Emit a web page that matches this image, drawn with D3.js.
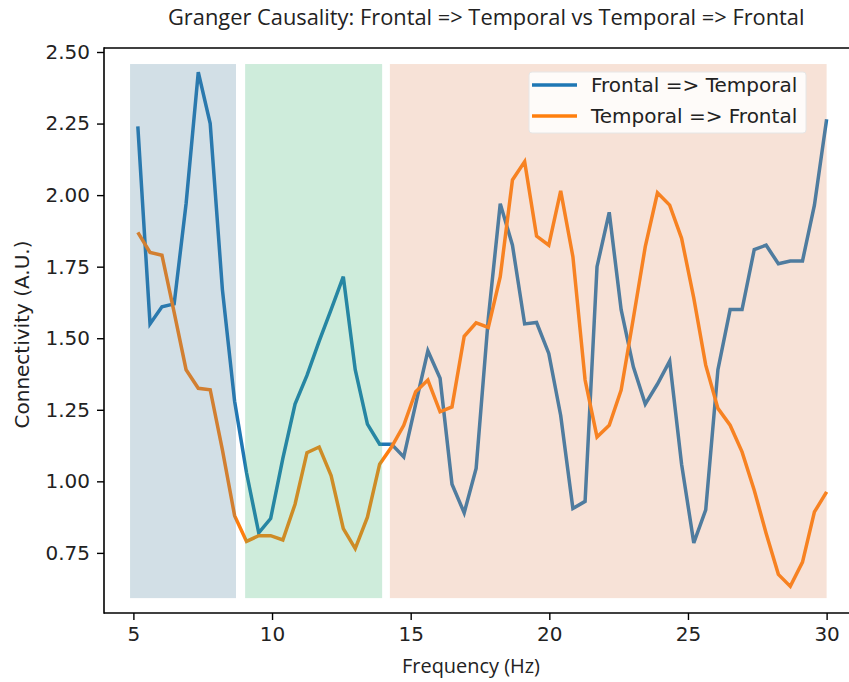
<!DOCTYPE html>
<html>
<head>
<meta charset="utf-8">
<script src="https://cdn.jsdelivr.net/npm/d3@7/dist/d3.min.js"></script>
<style>
  html, body { margin: 0; padding: 0; background: #ffffff; }
  svg { display: block; }
</style>
</head>
<body>
<script>
// Frequency grid (Hz)
const freqs = [
  5.16, 5.60, 6.03, 6.47, 6.90, 7.34, 7.77, 8.21, 8.65, 9.08,
  9.52, 9.95, 10.39, 10.83, 11.26, 11.70, 12.13, 12.57, 13.00, 13.44,
  13.88, 14.31, 14.75, 15.18, 15.62, 16.06, 16.49, 16.93, 17.36, 17.80,
  18.23, 18.67, 19.11, 19.54, 19.98, 20.41, 20.85, 21.29, 21.72, 22.16,
  22.59, 23.03, 23.46, 23.90, 24.34, 24.77, 25.21, 25.64, 26.08, 26.52,
  26.95, 27.39, 27.82, 28.26, 28.69, 29.13, 29.56, 30.00
];

// Granger connectivity, Frontal => Temporal
const frontalToTemporal = [
  2.24, 1.55, 1.61, 1.62, 1.97, 2.43, 2.25, 1.67, 1.28, 1.03,
  0.82, 0.87, 1.08, 1.27, 1.37, 1.49, 1.60, 1.715, 1.39, 1.20,
  1.13, 1.13, 1.085, 1.27, 1.456, 1.36, 0.99, 0.89, 1.045, 1.57,
  1.97, 1.825, 1.55, 1.555, 1.447, 1.23, 0.905, 0.93, 1.75, 1.94,
  1.60, 1.40, 1.27, 1.34, 1.42, 1.06, 0.785, 0.90, 1.39, 1.60,
  1.60, 1.81, 1.825, 1.76, 1.77, 1.77, 1.965, 2.265
];

// Granger connectivity, Temporal => Frontal
const temporalToFrontal = [
  1.87, 1.80, 1.79, 1.59, 1.39, 1.325, 1.32, 1.11, 0.88, 0.79,
  0.81, 0.81, 0.795, 0.92, 1.10, 1.12, 1.02, 0.835, 0.765, 0.875,
  1.06, 1.12, 1.196, 1.313, 1.354, 1.243, 1.26, 1.507, 1.554, 1.538,
  1.715, 2.053, 2.117, 1.857, 1.825, 2.015, 1.785, 1.354, 1.155, 1.196,
  1.319, 1.57, 1.82, 2.008, 1.965, 1.849, 1.64, 1.406, 1.255, 1.196,
  1.103, 0.969, 0.818, 0.675, 0.633, 0.718, 0.893, 0.963
];

// Frequency bands highlighted behind the curves (Hz)
const bandStart = [4.88, 9.03, 14.25];
const bandEnd   = [8.70, 13.97, 30.0];
const bandLow = 0.592, bandHigh = 2.458;

const seriesNames = ["Frontal => Temporal", "Temporal => Frontal"];
const xTicks = [5, 10, 15, 20, 25, 30];
const yTicks = [0.75, 1.00, 1.25, 1.50, 1.75, 2.00, 2.25, 2.50];

const titleText = "Granger Causality: Frontal => Temporal vs Temporal => Frontal";
const xLabel = "Frequency (Hz)";
const yLabel = "Connectivity (A.U.)";

// ---- drawing ----
const W = 849, H = 682;
const plot = { left: 104, right: 861, top: 48, bottom: 613 };
const seriesColors = ["#1f77b4", "#ff7f0e"];
const bandColors = ["#4b7f9b", "#3cb371", "#de8b5f"];
const bandAlpha = 0.25;
const tickFont = "'DejaVu Sans', sans-serif";
const headFont = "'Open Sans', 'Noto Sans', sans-serif";

const svg = d3.select("body").append("svg")
  .attr("width", W).attr("height", H)
  .style("background", "#ffffff");

const x = d3.scaleLinear().domain([3.94, 31.24]).range([plot.left, plot.right]);
const y = d3.scaleLinear().domain([0.54, 2.514]).range([plot.bottom, plot.top]);

svg.append("clipPath").attr("id", "plot-clip")
  .append("rect")
  .attr("x", plot.left).attr("y", plot.top)
  .attr("width", plot.right - plot.left).attr("height", plot.bottom - plot.top);

const area = svg.append("g").attr("clip-path", "url(#plot-clip)");

// curves
const series = [frontalToTemporal, temporalToFrontal];
const line = d3.line().x((d, i) => x(freqs[i])).y(d => y(d));
series.forEach((vals, k) => {
  area.append("path")
    .datum(vals)
    .attr("d", line)
    .attr("fill", "none")
    .attr("stroke", seriesColors[k])
    .attr("stroke-width", 3.5)
    .attr("stroke-linejoin", "miter")
    .attr("stroke-linecap", "butt");
});

// translucent band shading laid over the curves
area.selectAll("rect.band")
  .data(bandStart)
  .join("rect")
  .attr("class", "band")
  .attr("x", (d) => x(d))
  .attr("width", (d, i) => x(bandEnd[i]) - x(d))
  .attr("y", y(bandHigh))
  .attr("height", y(bandLow) - y(bandHigh))
  .attr("fill", (d, i) => bandColors[i])
  .attr("fill-opacity", bandAlpha);

// axes
const xAxis = d3.axisBottom(x).tickValues(xTicks).tickFormat(d3.format("d"))
  .tickSize(7).tickPadding(7);
const yAxis = d3.axisLeft(y).tickValues(yTicks).tickFormat(d3.format(".2f"))
  .tickSize(7).tickPadding(7);

const gx = svg.append("g").attr("transform", `translate(0,${plot.bottom})`).call(xAxis);
const gy = svg.append("g").attr("transform", `translate(${plot.left},0)`).call(yAxis);
[gx, gy].forEach(g => {
  g.select(".domain").remove();
  g.selectAll(".tick line").attr("stroke", "#000").attr("stroke-width", 1.4);
  g.selectAll(".tick text")
    .attr("fill", "#222")
    .style("font-family", tickFont)
    .style("font-size", "20px");
});

// spines (left, bottom, top)
const spine = svg.append("g").attr("stroke", "#000").attr("stroke-width", 1.6).attr("fill", "none");
spine.append("line").attr("x1", plot.left).attr("x2", plot.left).attr("y1", plot.top - 0.8).attr("y2", plot.bottom + 0.8);
spine.append("line").attr("x1", plot.left).attr("x2", plot.right).attr("y1", plot.bottom).attr("y2", plot.bottom);
spine.append("line").attr("x1", plot.left).attr("x2", plot.right).attr("y1", plot.top).attr("y2", plot.top);

// fit a text element to a given width by adjusting its font size
function fitWidth(sel, target, base) {
  sel.style("font-size", base + "px");
  const w = sel.node().getComputedTextLength();
  if (w > 0) sel.style("font-size", (base * target / w).toFixed(2) + "px");
}

// title
const title = svg.append("text")
  .attr("x", 168).attr("y", 25)
  .attr("fill", "#222")
  .style("font-family", headFont)
  .text(titleText);
fitWidth(title, 637, 19);

// x label
const xl = svg.append("text")
  .attr("x", 402).attr("y", 673)
  .attr("fill", "#222")
  .style("font-family", headFont)
  .text(xLabel);
fitWidth(xl, 138, 19);

// y label
svg.append("text")
  .attr("transform", `translate(28.5,${(plot.top + plot.bottom) / 2 + 4}) rotate(-90)`)
  .attr("text-anchor", "middle")
  .attr("fill", "#222")
  .style("font-family", tickFont)
  .style("font-size", "20px")
  .text(yLabel);

// legend
const legend = svg.append("g");
legend.append("rect")
  .attr("x", 529).attr("y", 72).attr("width", 277).attr("height", 61)
  .attr("rx", 3)
  .attr("fill", "#ffffff").attr("fill-opacity", 0.85)
  .attr("stroke", "#e6e6e6").attr("stroke-width", 1);
seriesNames.forEach((name, k) => {
  const cy = 85 + k * 31;
  legend.append("line")
    .attr("x1", 532).attr("x2", 577).attr("y1", cy).attr("y2", cy)
    .attr("stroke", seriesColors[k]).attr("stroke-width", 3.5);
  legend.append("text")
    .attr("x", 591).attr("y", cy + 7.3)
    .attr("fill", "#222")
    .style("font-family", tickFont)
    .style("font-size", "20px")
    .text(name);
});
</script>
</body>
</html>
